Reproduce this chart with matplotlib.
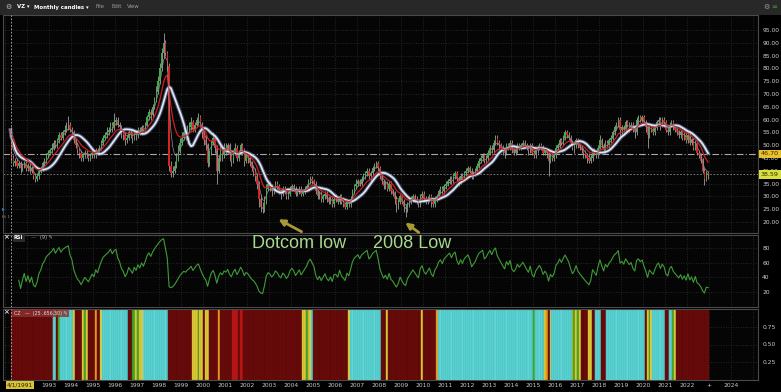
import numpy as np
import pandas as pd
import matplotlib
matplotlib.use('Agg')
import matplotlib.pyplot as plt
from matplotlib.patches import Rectangle
from matplotlib.transforms import blended_transform_factory

W, H = 781, 392

# VZ monthly candles, Apr 1991 .. Dec 2022 (one row per calendar year)
first_open = 56.0
closes = [
    [45, 43, 44, 42, 43, 41, 42, 43, 41],
    [42, 40, 41, 38, 37, 38, 40, 41, 43, 44, 46, 47],
    [48, 49, 51, 50, 52, 54, 53, 55, 56, 57, 58, 56],
    [55, 52, 50, 48, 47, 45, 46, 47, 46, 45, 46, 47],
    [46, 48, 47, 49, 51, 53, 54, 55, 56, 58, 57, 59],
    [60, 58, 57, 55, 54, 52, 53, 55, 54, 53, 55, 54],
    [56, 55, 57, 56, 58, 61, 63, 62, 65, 68, 71, 75],
    [80, 86, 90, 86, 81, 42, 39, 40, 42, 45, 48, 51],
    [53, 55, 54, 56, 57, 59, 56, 58, 60, 61, 58, 55],
    [52, 50, 43, 47, 51, 53, 49, 40, 45, 48, 46, 49],
    [48, 50, 46, 44, 47, 49, 45, 47, 50, 48, 44, 46],
    [45, 43, 41, 40, 38, 35, 29, 26, 25, 28, 33, 35],
    [34, 32, 33, 35, 34, 32, 31, 33, 32, 30, 31, 33],
    [34, 33, 31, 32, 33, 31, 32, 33, 34, 36, 37, 36],
    [35, 32, 30, 31, 29, 30, 31, 29, 28, 29, 27, 29],
    [29, 28, 30, 28, 27, 26, 28, 27, 29, 32, 34, 35],
    [36, 35, 37, 38, 39, 40, 38, 39, 41, 42, 43, 41],
    [38, 36, 34, 35, 33, 35, 32, 31, 29, 27, 28, 30],
    [28, 26, 25, 27, 28, 29, 30, 29, 28, 27, 30, 31],
    [29, 28, 29, 30, 28, 27, 29, 30, 32, 33, 32, 34],
    [35, 36, 37, 36, 38, 39, 37, 36, 38, 37, 39, 40],
    [41, 40, 38, 39, 40, 42, 44, 45, 46, 44, 45, 47],
    [49, 48, 51, 53, 51, 50, 49, 48, 47, 50, 49, 51],
    [48, 47, 48, 50, 49, 50, 51, 50, 49, 48, 50, 47],
    [46, 48, 49, 50, 49, 47, 48, 47, 44, 46, 45, 46],
    [49, 50, 52, 51, 53, 55, 54, 53, 51, 49, 50, 52],
    [50, 49, 48, 47, 46, 45, 44, 45, 48, 47, 46, 49],
    [52, 50, 48, 51, 50, 52, 53, 55, 57, 58, 60, 56],
    [57, 56, 59, 58, 57, 58, 56, 55, 60, 61, 60, 61],
    [59, 57, 54, 57, 56, 55, 57, 59, 60, 58, 60, 59],
    [56, 55, 58, 59, 57, 56, 55, 54, 55, 53, 54, 52],
    [54, 51, 52, 49, 51, 47, 46, 44, 40, 37, 39, 38.59],
]
highs = [
    [57, 46, 45, 45, 44, 44, 43, 44, 44],
    [43, 43, 42, 42, 39, 39, 41, 42, 44, 45, 47, 48],
    [49, 51, 52, 52, 53, 55, 55, 56, 58, 59, 61.5, 59],
    [57, 56, 53, 51, 49, 48, 47, 48, 48, 47, 47, 48],
    [48, 49, 49, 50, 52, 54, 55, 57, 57, 59, 59, 62.5],
    [61, 61, 59, 58, 56, 55, 54, 56, 56, 55, 56, 56],
    [57, 57, 58, 58, 59, 62, 64, 64, 66, 69, 73, 77],
    [82, 88, 94, 91, 87, 82, 44, 42, 44, 47, 50, 53],
    [55, 57, 56, 58, 59, 61, 60, 59, 61, 62.5, 62, 59],
    [56, 54, 51, 48, 52, 55, 54, 50, 46, 50, 49, 51],
    [51, 51, 51, 47, 48, 51, 50, 48, 51, 51, 49, 47],
    [47, 46, 44, 42, 41, 39, 36, 31, 28, 30, 35, 36],
    [36, 35, 34, 36, 36, 35, 33, 34, 34, 33, 32, 34],
    [35, 35, 34, 33, 34, 34, 33, 34, 35, 37, 38, 38],
    [37, 36, 33, 32, 32, 31, 32, 32, 30, 30, 30, 30],
    [31, 30, 31, 31, 29, 28, 29, 29, 30, 33, 35, 37],
    [37, 37, 38, 39, 40, 41, 41, 40, 42, 43, 44, 44],
    [42, 39, 37, 36, 36, 36, 36, 33, 32, 30, 29, 31],
    [31, 29, 27, 28, 29, 30, 31, 31, 30, 29, 31, 32],
    [32, 30, 30, 31, 31, 29, 30, 31, 33, 34, 34, 35],
    [36, 37, 38, 38, 39, 40, 40, 38, 39, 39, 40, 41],
    [42, 42, 41, 40, 41, 43, 45, 46, 47, 47, 46, 48],
    [50, 50, 52, 54, 54, 52, 51, 50, 49, 51, 51, 52],
    [52, 49, 49, 51, 51, 51, 52, 52, 51, 50, 51, 51],
    [48, 49, 50, 51, 51, 50, 49, 49, 48, 47, 47, 47],
    [50, 51, 53, 53, 54, 56, 56, 55, 54, 52, 51, 53],
    [53, 51, 50, 49, 48, 47, 47, 46, 49, 49, 48, 50],
    [54, 53, 51, 52, 52, 53, 54, 56, 58, 59, 61, 61],
    [58, 58, 60, 60, 59, 59, 59, 57, 61, 62, 62, 62],
    [62, 60, 58, 58, 58, 57, 58, 60, 61, 61, 61, 61],
    [60, 57, 59, 60, 60, 58, 57, 56, 56, 56, 55, 55],
    [55, 55, 53, 53, 52, 52, 48, 47, 45, 41, 40, 40],
]
lows = [
    [44, 42, 42, 41, 41, 39, 40, 41, 40],
    [40, 39, 39, 37, 35.5, 36, 37, 39, 40, 42, 43, 45],
    [46, 47, 48, 49, 49, 51, 52, 52, 54, 55, 56, 55],
    [54, 51, 49, 47, 45, 44, 44, 45, 45, 44, 44, 45],
    [45, 45, 46, 46, 48, 50, 52, 53, 54, 55, 55, 56],
    [58, 57, 55, 53, 52, 50, 51, 52, 53, 51, 52, 52],
    [53, 54, 54, 55, 55, 57, 60, 60, 61, 64, 67, 70],
    [74, 79, 84, 85, 79, 40, 37.5, 37.5, 39, 41, 44, 47],
    [50, 52, 52, 53, 55, 56, 55, 55, 57, 58, 57, 53],
    [50, 48, 41.5, 42, 46, 50, 47, 35, 39, 44, 44, 45],
    [46, 47, 44, 42, 43, 46, 44, 44, 46, 46, 42, 43],
    [43, 42, 40, 38, 36, 33, 26, 24, 23.5, 24, 27, 32],
    [32, 30, 31, 32, 33, 31, 29, 30, 31, 29, 29, 30],
    [32, 32, 30, 30, 31, 30, 30, 31, 32, 33, 35, 35],
    [34, 31, 29, 29, 28, 28, 29, 28, 27, 27, 26, 26],
    [28, 27, 27, 27, 26, 25, 25, 26, 26, 28, 31, 33],
    [34, 34, 34, 36, 37, 38, 37, 36, 38, 40, 41, 40],
    [37, 35, 33, 33, 32, 32, 31, 30, 27, 24, 25, 27],
    [27, 24, 22, 24, 26, 27, 28, 28, 27, 26, 26, 29],
    [28, 27, 27, 28, 26, 26, 26, 28, 29, 31, 31, 31],
    [33, 34, 35, 35, 35, 37, 36, 34, 35, 36, 36, 38],
    [39, 39, 37, 37, 38, 39, 41, 43, 44, 43, 43, 44],
    [46, 47, 47, 50, 50, 48, 48, 46, 45, 46, 48, 48],
    [47, 46, 46, 47, 48, 48, 49, 49, 48, 46, 47, 46],
    [45, 45, 47, 48, 48, 46, 46, 45, 38, 43, 44, 44],
    [45, 48, 49, 50, 50, 52, 53, 52, 50, 48, 47, 49],
    [49, 48, 47, 45, 45, 43, 43, 43, 44, 46, 45, 45],
    [48, 49, 47, 47, 49, 49, 51, 52, 54, 56, 57, 53],
    [54, 55, 55, 57, 55, 56, 55, 53, 54, 58, 59, 59],
    [58, 55, 49, 53, 55, 54, 54, 56, 58, 56, 57, 57],
    [55, 54, 54, 57, 56, 55, 54, 53, 53, 52, 52, 51],
    [51, 50, 50, 48, 48, 46, 45, 43, 39, 34.5, 36, 37],
]

# CZ study: colour state per month, as runs (code, number of months)
cz_runs = [('r', 23), ('c', 2), ('r', 1), ('g', 1), ('c', 7), ('y', 1), ('r', 4),
           ('y', 1), ('g', 1), ('y', 1), ('r', 4), ('o', 1), ('r', 2), ('y', 1),
           ('c', 14), ('r', 2), ('g', 2), ('y', 1), ('g', 1), ('y', 2), ('c', 14),
           ('r', 13), ('y', 3), ('g', 1), ('y', 2), ('r', 1), ('y', 2), ('r', 5),
           ('o', 1), ('r', 7), ('R', 3), ('r', 1), ('R', 2), ('r', 32), ('y', 2),
           ('g', 1), ('y', 2), ('c', 1), ('r', 19), ('y', 1), ('c', 17), ('r', 3),
           ('y', 1), ('r', 18), ('y', 1), ('r', 7), ('o', 1), ('c', 52), ('g', 1),
           ('c', 5), ('y', 1), ('o', 1), ('r', 1), ('y', 1), ('c', 11), ('y', 1),
           ('g', 1), ('y', 1), ('g', 1), ('y', 1), ('r', 4), ('y', 2), ('r', 2),
           ('c', 3), ('r', 3), ('c', 21), ('r', 1), ('y', 1), ('g', 1), ('y', 1),
           ('c', 7), ('r', 2), ('c', 2), ('g', 1), ('y', 1), ('r', 18)]
cz_fill = {'r': '#6c0b0b', 'R': '#c01818', 'c': '#3ec4c4', 'y': '#e2cf3a',
           'g': '#4aad2e', 'o': '#eea023'}
cz_edge = {'r': '#550707', 'R': '#9a1010', 'c': '#8fe3e3', 'y': '#b8a428',
           'g': '#2f7f1c', 'o': '#c07818'}

years = list(range(1991, 2026))
ref_price = 46.70
last_price = 38.59
start_t = 1991.25

# ---- data prep
c = np.concatenate([np.array(r, float) for r in closes])
hi = np.concatenate([np.array(r, float) for r in highs])
lo = np.concatenate([np.array(r, float) for r in lows])
o = np.r_[first_open, c[:-1]]
n = len(c)
t = start_t + np.arange(n) / 12 + 1 / 24

s = pd.Series(np.r_[first_open, c])
ts = np.r_[start_t, t]
ema_fast = s.ewm(span=4, adjust=False).mean()
ema_red = s.ewm(span=10, adjust=False).mean()
sma_blue = s.rolling(12, min_periods=1).mean().rolling(3, min_periods=1).mean()

# RSI(9), Wilder smoothing, on the closes
sc = pd.Series(c)
d = sc.diff()
gain = d.clip(lower=0).ewm(alpha=1 / 9, adjust=True, min_periods=4).mean()
loss = (-d.clip(upper=0)).ewm(alpha=1 / 9, adjust=True, min_periods=4).mean()
rsi = 100 - 100 / (1 + gain / loss)

cz = ''.join(k * m for k, m in cz_runs)

# ---- figure
fig = plt.figure(figsize=(W / 100, H / 100), dpi=100, facecolor='black')


def px_axes(x0, y0, x1, y1):
    return fig.add_axes([x0 / W, 1 - y1 / H, (x1 - x0) / W, (y1 - y0) / H])


ax1 = px_axes(3, 15, 758, 233)
ax2 = px_axes(3, 235, 758, 307)
ax3 = px_axes(3, 309, 758, 380)

for ax in (ax1, ax2, ax3):
    ax.set_facecolor('#050505')
    for sp in ax.spines.values():
        sp.set_color('#4a4a4a')
        sp.set_linewidth(0.8)
    ax.set_xlim(1990.909, 2025.227)
    ax.set_xticks(years)
    ax.yaxis.tick_right()
    ax.tick_params(axis='y', length=0, pad=3, labelsize=4.3, labelcolor='#cfcfcf')
    ax.tick_params(axis='x', length=0, labelbottom=False)
    ax.grid(True, color='#303030', ls=(0, (1, 2)), lw=0.6)
    ax.set_axisbelow(True)
    ax.axvline(start_t, color='#bdbdbd', ls=(0, (2, 2)), lw=0.6, zorder=5)

# main price panel
ax1.set_ylim(15.7, 100.9)
ax1.set_yticks(np.arange(20, 96, 5))
ax1.set_yticklabels([f'{v:.2f}' for v in np.arange(20, 96, 5)])
ax1.axhline(ref_price, color='#a8a8a8', lw=0.8, ls=(0, (6, 2, 1, 2)))
ax1.axhline(last_price, color='#8a8a8a', lw=0.6, ls=(0, (2, 2)))

ax1.vlines(t, lo, hi, color='#a0a0a0', lw=0.6, zorder=2)
up = c >= o
ax1.bar(t, c - o, bottom=o, width=0.055,
        color=np.where(up, '#35b045', '#d42525'), zorder=3)

ax1.plot(ts, sma_blue, color='#6e7fa6', lw=2.8, alpha=0.6, zorder=4)
ax1.plot(ts, sma_blue, color='#dfe3f2', lw=1.3, zorder=4)
ax1.plot(ts, ema_red, color='#cc2020', lw=0.9, zorder=4)
ax1.plot(ts, ema_fast, color='#8e8e8e', lw=0.5, zorder=4)

tr = blended_transform_factory(ax1.transAxes, ax1.transData)
ax1.text(1.004, ref_price, f'{ref_price:.2f}', transform=tr, fontsize=4.6,
         color='#3a2800', va='center', ha='left', clip_on=False, zorder=10,
         bbox=dict(boxstyle='square,pad=0.25', fc='#e8c22c', ec='none'))
ax1.text(1.004, last_price, f'{last_price:.2f}', transform=tr, fontsize=4.6,
         color='#2e3000', va='center', ha='left', clip_on=False, zorder=10,
         bbox=dict(boxstyle='square,pad=0.25', fc='#d9df3e', ec='none'))

# RSI panel
ax2.set_ylim(-0.5, 97.7)
ax2.set_yticks([20, 40, 60, 80])
ax2.plot(t, rsi, color='#3f9b38', lw=0.8)

# CZ panel
ax3.set_ylim(0, 1.0)
ax3.set_yticks([0.25, 0.5, 0.75])
ax3.set_yticklabels(['0.25', '0.50', '0.75'])
ax3.bar(t, 1.0, width=1 / 12, bottom=0,
        color=[cz_fill[k] for k in cz], edgecolor=[cz_edge[k] for k in cz],
        linewidth=0.3)
ax3.tick_params(axis='x', labelbottom=True, pad=2, labelsize=4.3,
                labelcolor='#c8c8c8')
xlabels = []
for y in years:
    if 1993 <= y <= 2022 or y == 2024:
        xlabels.append(str(y))
    elif y == 2023:
        xlabels.append('+')
    else:
        xlabels.append('')
ax3.set_xticklabels(xlabels)

# ---- chrome: header bar and panel captions
fig.add_artist(Rectangle((0, 1 - 15 / H), 1, 15 / H, transform=fig.transFigure,
                         fc='#282828', ec='none'))
hdr_y = 1 - 7 / H
fig.text(5 / W, hdr_y, '⚙', color='#bbbbbb', fontsize=5, va='center')
fig.text(17 / W, hdr_y, 'VZ ▾', color='white', fontsize=3.9, weight='bold', va='center')
fig.text(34 / W, hdr_y, 'Monthly candles ▾', color='white', fontsize=3.9,
         weight='bold', va='center')
fig.text(95 / W, hdr_y, 'File', color='#9a9a9a', fontsize=3.9, va='center')
fig.text(111 / W, hdr_y, 'Edit', color='#9a9a9a', fontsize=3.9, va='center')
fig.text(127 / W, hdr_y, 'View', color='#9a9a9a', fontsize=3.9, va='center')
fig.text(763 / W, hdr_y, '⚙', color='#9a9a9a', fontsize=5, va='center')
fig.text(771 / W, hdr_y, '∞', color='#5aa040', fontsize=5, va='center')

fig.text(3 / W, 1 - 237 / H, '×', color='#dddddd', fontsize=5, weight='bold', va='center')
fig.text(14 / W, 1 - 238 / H, 'RSI', color='white', fontsize=3.6, weight='bold',
         va='center', bbox=dict(boxstyle='square,pad=0.3', fc='#2a2a2a', ec='none'))
fig.text(31 / W, 1 - 238 / H, '—', color='#3f9b38', fontsize=4, va='center')
fig.text(40 / W, 1 - 238 / H, '(9) ✎', color='#bbbbbb', fontsize=3.6, va='center')

fig.text(3 / W, 1 - 312 / H, '×', color='#dddddd', fontsize=5, weight='bold', va='center')
fig.text(14 / W, 1 - 313 / H, 'CZ   —  (25 ,656,30) ✎', color='#dddddd', fontsize=3.4,
         va='center', bbox=dict(boxstyle='square,pad=0.4', fc='#8a3030', ec='none',
                                alpha=0.8))

fig.text(2 / W, 1 - 209 / H, '▸', color='#3b7fd6', fontsize=4, va='center')
fig.text(2 / W, 1 - 217 / H, 'fh 1', color='#888888', fontsize=3, va='center')

fig.text(20 / W, 1 - 385 / H, '4/1/1991', color='#2a2000', fontsize=4.2, ha='center',
         va='center', bbox=dict(boxstyle='square,pad=0.2', fc='#d8c23a', ec='none'))

# ---- hand-drawn annotations
txt_font = ['Liberation Sans', 'DejaVu Sans']
fig.text(299 / W, 1 - 244 / H, 'Dotcom low', color='#a8d98e', fontsize=13,
         family=txt_font, ha='center', va='center')
fig.text(412 / W, 1 - 244 / H, '2008 Low', color='#a8d98e', fontsize=13,
         family=txt_font, ha='center', va='center')
arrow = dict(arrowstyle='-|>', color='#a99a38', lw=2, mutation_scale=9)
ax1.annotate('', xy=(276 / W, 1 - 218 / H), xycoords='figure fraction',
             xytext=(304 / W, 1 - 233 / H), textcoords='figure fraction',
             arrowprops=arrow, annotation_clip=False)
ax1.annotate('', xy=(403 / W, 1 - 221 / H), xycoords='figure fraction',
             xytext=(421 / W, 1 - 234 / H), textcoords='figure fraction',
             arrowprops=arrow, annotation_clip=False)

plt.savefig('out.png', dpi=100, facecolor=fig.get_facecolor())
